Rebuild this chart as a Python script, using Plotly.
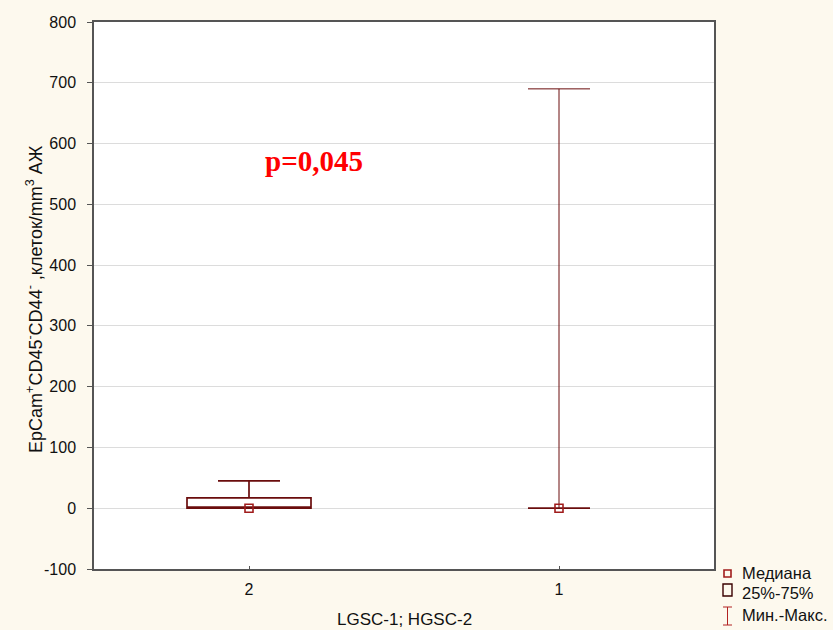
import plotly.graph_objects as go

# Group labels (LGSC-1; HGSC-2) and summary statistics per group
groups = ["2", "1"]
q_min = [0, 0]
q1 = [0, 0]
median = [0, 0]
q3 = [17, 0]
q_max = [45, 690]

y_ticks = [-100, 0, 100, 200, 300, 400, 500, 600, 700, 800]
y_tick_text = [str(v) for v in y_ticks]
p_label = "p=0,045"
x_title = "LGSC-1; HGSC-2"
y_title = "EpCam<sup>+</sup>CD45<sup>-</sup>CD44<sup>-</sup> ,клеток/mm<sup>3</sup> АЖ"

W, H = 833, 630
L, R, T, B = 94, 714, 22, 569

BOX_LINE = "#6a0c0c"
MED_COL = "#a01c1c"
PAPER = "#fdf9ee"

fig = go.Figure()

# Interquartile box + min/max whiskers for each group
box_widths = [0.4, 0.2]
whisker_rel = [0.5, 1.0]
line_w = [1.7, 1.0]
for i, g in enumerate(groups):
    fig.add_trace(go.Box(
        x=[g], q1=[q1[i]], median=[median[i]], q3=[q3[i]],
        lowerfence=[q_min[i]], upperfence=[q_max[i]],
        width=box_widths[i], whiskerwidth=whisker_rel[i],
        fillcolor="white", line=dict(color=BOX_LINE, width=line_w[i]),
        boxpoints=False, showlegend=False, hoverinfo="skip",
    ))

# Median markers
fig.add_trace(go.Scatter(
    x=groups, y=median, mode="markers",
    marker=dict(symbol="square-open", size=8, color=MED_COL, line=dict(width=1.6, color=MED_COL)),
    showlegend=False, hoverinfo="skip",
))


def px_x(px):
    return (px - L) / (R - L)


def px_y(py):
    return (B - py) / (B - T)


annotations = [
    # p-value
    dict(text=f"<b>{p_label}</b>", xref="paper", yref="paper",
         x=px_x(314), y=px_y(161), xanchor="center", yanchor="middle",
         showarrow=False, font=dict(family="Liberation Serif", size=29, color="#ff0000")),
    # axis titles
    dict(text=x_title, xref="paper", yref="paper", x=px_x(404), y=px_y(619),
         xanchor="center", yanchor="middle", showarrow=False,
         font=dict(family="Liberation Sans", size=17, color="#111111")),
    dict(text=y_title, xref="paper", yref="paper", x=px_x(35), y=px_y(299),
         xanchor="center", yanchor="middle", textangle=-90, showarrow=False,
         font=dict(family="Liberation Sans", size=18, color="#111111")),
]

# Legend entries
legend_text = ["Медиана", "25%-75%", "Мин.-Макс."]
legend_y = [572.5, 593, 615]
for t, yy in zip(legend_text, legend_y):
    annotations.append(dict(
        text=t, xref="paper", yref="paper", x=px_x(740), y=px_y(yy),
        xanchor="left", yanchor="middle", showarrow=False,
        font=dict(family="Liberation Sans", size=16.5, color="#111111"),
    ))

shapes = [
    dict(type="rect", xref="paper", yref="paper", x0=px_x(724), x1=px_x(731),
         y0=px_y(577), y1=px_y(570), line=dict(color=MED_COL, width=1.6)),
    dict(type="rect", xref="paper", yref="paper", x0=px_x(723), x1=px_x(732),
         y0=px_y(596), y1=px_y(584), line=dict(color="#3a0000", width=1.4)),
    dict(type="line", xref="paper", yref="paper", x0=px_x(727.5), x1=px_x(727.5),
         y0=px_y(625), y1=px_y(607), line=dict(color="#b22222", width=1)),
    dict(type="line", xref="paper", yref="paper", x0=px_x(723), x1=px_x(732),
         y0=px_y(607), y1=px_y(607), line=dict(color="#b22222", width=1)),
    dict(type="line", xref="paper", yref="paper", x0=px_x(723), x1=px_x(732),
         y0=px_y(625), y1=px_y(625), line=dict(color="#b22222", width=1)),
]

fig.update_layout(
    width=W, height=H,
    margin=dict(l=L, r=W - R, t=T, b=H - B, pad=0, autoexpand=False),
    paper_bgcolor=PAPER, plot_bgcolor="white",
    font=dict(family="Liberation Sans", size=15, color="#111111"),
    boxmode="overlay",
    showlegend=False,
    annotations=annotations,
    shapes=shapes,
    xaxis=dict(
        type="category", categoryorder="array", categoryarray=groups,
        range=[-0.5, 1.5], automargin=False,
        showgrid=False, zeroline=False,
        showline=True, linecolor="#555555", linewidth=1.5, mirror=True,
        ticks="inside", ticklen=3, tickcolor="#555555",
        ticklabelstandoff=5,
        tickfont=dict(size=16),
    ),
    yaxis=dict(
        range=[-100, 800], tickvals=y_ticks, ticktext=y_tick_text, automargin=False,
        showgrid=True, gridcolor="#dcdcdc", gridwidth=1,
        zeroline=False,
        showline=True, linecolor="#555555", linewidth=1.5, mirror=True,
        ticks="outside", ticklen=5, tickcolor="#555555",
        ticklabelstandoff=8,
        tickfont=dict(size=16),
    ),
)

fig.write_html("out.html")
